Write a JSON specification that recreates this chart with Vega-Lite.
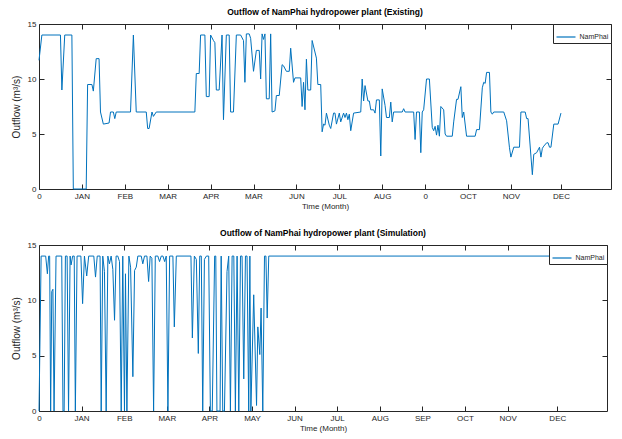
{
  "$schema": "https://vega.github.io/schema/vega-lite/v6.json",
  "padding": {"left": 10, "top": 7, "right": 5, "bottom": 2},
  "background": "white",
  "config": {
    "font": "Liberation Sans, Arial, sans-serif",
    "view": {"stroke": "#262626", "strokeWidth": 1},
    "axis": {"domain": false, "grid": false, "tickColor": "#262626", "tickSize": -5, "labelPadding": 8, "labelFontSize": 8, "labelColor": "#262626", "titleColor": "#262626", "titleFontWeight": "normal", "labelOverlap": false, "labelFlush": false},
    "title": {"fontSize": 8.5, "fontWeight": "bold", "color": "black", "offset": 4},
    "legend": {"orient": "top-right", "offset": 0, "padding": 2.5, "strokeColor": "#262626", "fillColor": "white", "symbolType": "stroke", "symbolSize": 361, "symbolStrokeWidth": 1.2, "labelFontSize": 7, "labelLimit": 0, "title": null, "labelColor": "#262626", "labelOffset": 3}
  },
  "datasets": {
    "existing": [
      {"day": 0, "outflow": 11.7}, {"day": 2, "outflow": 14}, {"day": 15, "outflow": 14}, {"day": 16, "outflow": 9.0}, {"day": 18, "outflow": 14}, {"day": 23, "outflow": 14}, {"day": 24, "outflow": 0}, {"day": 33, "outflow": 0}, {"day": 34, "outflow": 9.5}, {"day": 37, "outflow": 9.5}, {"day": 38, "outflow": 8.9}, {"day": 40, "outflow": 11.85}, {"day": 42, "outflow": 11.85}, {"day": 43, "outflow": 7.0}, {"day": 45, "outflow": 5.9}, {"day": 49, "outflow": 6.0}, {"day": 50, "outflow": 7.0}, {"day": 52, "outflow": 7.0}, {"day": 53, "outflow": 6.4}, {"day": 54, "outflow": 7.0}, {"day": 64, "outflow": 7.0}, {"day": 66, "outflow": 14.0}, {"day": 68, "outflow": 7.0}, {"day": 75, "outflow": 7.0}, {"day": 76, "outflow": 5.5}, {"day": 77, "outflow": 5.5}, {"day": 79, "outflow": 7.0}, {"day": 80, "outflow": 6.6}, {"day": 82, "outflow": 7.0}, {"day": 109, "outflow": 7.0}, {"day": 110, "outflow": 10.5}, {"day": 112, "outflow": 10.5}, {"day": 113, "outflow": 14.0}, {"day": 116, "outflow": 14.0}, {"day": 117, "outflow": 8.4}, {"day": 119, "outflow": 8.4}, {"day": 120, "outflow": 14.0}, {"day": 122, "outflow": 13.5}, {"day": 123, "outflow": 13.3}, {"day": 124, "outflow": 9.0}, {"day": 126, "outflow": 9.0}, {"day": 128, "outflow": 14.0}, {"day": 129, "outflow": 6.3}, {"day": 131, "outflow": 14.0}, {"day": 133, "outflow": 14.0}, {"day": 134, "outflow": 7.0}, {"day": 136, "outflow": 7.0}, {"day": 138, "outflow": 14.0}, {"day": 141, "outflow": 14.0}, {"day": 143, "outflow": 13.5}, {"day": 144, "outflow": 9.7}, {"day": 145, "outflow": 14.1}, {"day": 147, "outflow": 14.1}, {"day": 148, "outflow": 13.7}, {"day": 150, "outflow": 10.7}, {"day": 152, "outflow": 12.6}, {"day": 154, "outflow": 12.6}, {"day": 155, "outflow": 10.0}, {"day": 156, "outflow": 14.1}, {"day": 157, "outflow": 13.6}, {"day": 158, "outflow": 14.1}, {"day": 159, "outflow": 8.2}, {"day": 161, "outflow": 8.2}, {"day": 162, "outflow": 14.1}, {"day": 163, "outflow": 7.0}, {"day": 165, "outflow": 7.1}, {"day": 166, "outflow": 8.5}, {"day": 168, "outflow": 8.5}, {"day": 170, "outflow": 11.3}, {"day": 171, "outflow": 11.2}, {"day": 173, "outflow": 10.7}, {"day": 175, "outflow": 10.7}, {"day": 176, "outflow": 12.8}, {"day": 178, "outflow": 9.7}, {"day": 179, "outflow": 10.1}, {"day": 183, "outflow": 10.1}, {"day": 184, "outflow": 7.5}, {"day": 185, "outflow": 9.7}, {"day": 186, "outflow": 7.2}, {"day": 187, "outflow": 11.8}, {"day": 188, "outflow": 9.0}, {"day": 190, "outflow": 9.0}, {"day": 191, "outflow": 13.5}, {"day": 194, "outflow": 11.9}, {"day": 195, "outflow": 9.5}, {"day": 197, "outflow": 9.5}, {"day": 198, "outflow": 5.2}, {"day": 199, "outflow": 5.9}, {"day": 200, "outflow": 5.8}, {"day": 201, "outflow": 6.9}, {"day": 203, "outflow": 5.8}, {"day": 204, "outflow": 5.5}, {"day": 206, "outflow": 6.9}, {"day": 207, "outflow": 6.9}, {"day": 208, "outflow": 5.9}, {"day": 210, "outflow": 6.9}, {"day": 211, "outflow": 6.1}, {"day": 213, "outflow": 6.9}, {"day": 214, "outflow": 6.5}, {"day": 215, "outflow": 6.9}, {"day": 216, "outflow": 6.3}, {"day": 217, "outflow": 6.8}, {"day": 218, "outflow": 5.3}, {"day": 220, "outflow": 6.9}, {"day": 225, "outflow": 7.0}, {"day": 226, "outflow": 10.0}, {"day": 227, "outflow": 8.0}, {"day": 228, "outflow": 9.4}, {"day": 230, "outflow": 8.0}, {"day": 231, "outflow": 8.0}, {"day": 232, "outflow": 7.2}, {"day": 234, "outflow": 7.2}, {"day": 235, "outflow": 6.9}, {"day": 236, "outflow": 8.1}, {"day": 238, "outflow": 8.1}, {"day": 239, "outflow": 3.0}, {"day": 240, "outflow": 9.1}, {"day": 242, "outflow": 7.6}, {"day": 243, "outflow": 6.5}, {"day": 245, "outflow": 6.5}, {"day": 246, "outflow": 7.9}, {"day": 247, "outflow": 6.1}, {"day": 248, "outflow": 7.0}, {"day": 254, "outflow": 7.0}, {"day": 255, "outflow": 7.3}, {"day": 256, "outflow": 7.0}, {"day": 262, "outflow": 7.0}, {"day": 263, "outflow": 4.5}, {"day": 264, "outflow": 7.0}, {"day": 266, "outflow": 7.0}, {"day": 267, "outflow": 3.3}, {"day": 268, "outflow": 7.0}, {"day": 269, "outflow": 7.2}, {"day": 271, "outflow": 10.0}, {"day": 273, "outflow": 10.0}, {"day": 275, "outflow": 5.6}, {"day": 276, "outflow": 5.3}, {"day": 277, "outflow": 5.7}, {"day": 278, "outflow": 4.9}, {"day": 279, "outflow": 5.8}, {"day": 280, "outflow": 4.8}, {"day": 281, "outflow": 7.5}, {"day": 283, "outflow": 7.2}, {"day": 284, "outflow": 5.0}, {"day": 285, "outflow": 4.8}, {"day": 289, "outflow": 4.8}, {"day": 290, "outflow": 6.1}, {"day": 292, "outflow": 8.15}, {"day": 293, "outflow": 8.15}, {"day": 295, "outflow": 9.3}, {"day": 296, "outflow": 6.5}, {"day": 297, "outflow": 7.0}, {"day": 299, "outflow": 4.8}, {"day": 305, "outflow": 4.8}, {"day": 306, "outflow": 5.4}, {"day": 308, "outflow": 5.4}, {"day": 310, "outflow": 9.2}, {"day": 311, "outflow": 9.7}, {"day": 312, "outflow": 9.6}, {"day": 313, "outflow": 10.6}, {"day": 315, "outflow": 10.6}, {"day": 316, "outflow": 7.0}, {"day": 317, "outflow": 6.8}, {"day": 318, "outflow": 7.0}, {"day": 325, "outflow": 7.0}, {"day": 327, "outflow": 6.2}, {"day": 329, "outflow": 3.75}, {"day": 330, "outflow": 2.9}, {"day": 332, "outflow": 3.8}, {"day": 336, "outflow": 3.8}, {"day": 337, "outflow": 7.0}, {"day": 340, "outflow": 7.0}, {"day": 341, "outflow": 6.4}, {"day": 342, "outflow": 6.4}, {"day": 345, "outflow": 1.3}, {"day": 346, "outflow": 3.15}, {"day": 348, "outflow": 3.3}, {"day": 350, "outflow": 3.8}, {"day": 351, "outflow": 2.9}, {"day": 352, "outflow": 3.7}, {"day": 353, "outflow": 3.9}, {"day": 355, "outflow": 4.2}, {"day": 356, "outflow": 4.2}, {"day": 357, "outflow": 3.8}, {"day": 358, "outflow": 3.8}, {"day": 360, "outflow": 5.9}, {"day": 363, "outflow": 5.9}, {"day": 365, "outflow": 6.9}
    ],
    "simulation": [
      {"day": 0, "outflow": 0}, {"day": 1.5, "outflow": 14}, {"day": 4.7, "outflow": 14}, {"day": 5.9, "outflow": 12.4}, {"day": 6.8, "outflow": 14}, {"day": 7.5, "outflow": 14}, {"day": 8.2, "outflow": 0}, {"day": 9, "outflow": 10.8}, {"day": 9.8, "outflow": 11}, {"day": 10.6, "outflow": 0}, {"day": 12, "outflow": 14}, {"day": 16, "outflow": 14}, {"day": 16.9, "outflow": 0}, {"day": 17.7, "outflow": 0}, {"day": 18.6, "outflow": 14}, {"day": 19.8, "outflow": 14}, {"day": 20.8, "outflow": 0}, {"day": 21.9, "outflow": 14}, {"day": 22.6, "outflow": 13.2}, {"day": 23.7, "outflow": 14}, {"day": 24.8, "outflow": 14}, {"day": 25.6, "outflow": 0}, {"day": 26.8, "outflow": 14}, {"day": 29.5, "outflow": 14}, {"day": 30.7, "outflow": 9.7}, {"day": 32, "outflow": 14}, {"day": 33.6, "outflow": 12.2}, {"day": 35, "outflow": 14}, {"day": 38.6, "outflow": 14}, {"day": 39.8, "outflow": 12.1}, {"day": 41, "outflow": 14}, {"day": 43, "outflow": 14}, {"day": 43.8, "outflow": 0}, {"day": 44.9, "outflow": 14}, {"day": 46.1, "outflow": 12.6}, {"day": 47.3, "outflow": 0}, {"day": 48.5, "outflow": 14}, {"day": 49.6, "outflow": 13.3}, {"day": 50.8, "outflow": 14}, {"day": 52, "outflow": 12.8}, {"day": 53.2, "outflow": 8.2}, {"day": 54.3, "outflow": 14}, {"day": 55.5, "outflow": 14}, {"day": 56.7, "outflow": 13.5}, {"day": 57.9, "outflow": 0}, {"day": 59, "outflow": 14}, {"day": 60.2, "outflow": 0}, {"day": 60.9, "outflow": 12.4}, {"day": 61.9, "outflow": 0}, {"day": 63.3, "outflow": 14}, {"day": 64.5, "outflow": 13}, {"day": 66.1, "outflow": 3.1}, {"day": 67.3, "outflow": 12.7}, {"day": 68.5, "outflow": 13}, {"day": 69.6, "outflow": 14}, {"day": 72, "outflow": 14}, {"day": 73.1, "outflow": 13.3}, {"day": 74.3, "outflow": 14}, {"day": 76, "outflow": 14}, {"day": 77.2, "outflow": 11.7}, {"day": 78.3, "outflow": 14}, {"day": 79.5, "outflow": 13.8}, {"day": 80.7, "outflow": 0}, {"day": 81.9, "outflow": 14}, {"day": 83.7, "outflow": 14}, {"day": 84.9, "outflow": 13.5}, {"day": 86.1, "outflow": 14}, {"day": 87.3, "outflow": 14}, {"day": 88.5, "outflow": 13.5}, {"day": 89.6, "outflow": 14}, {"day": 90.8, "outflow": 0}, {"day": 92, "outflow": 14}, {"day": 94.3, "outflow": 14}, {"day": 95.3, "outflow": 7.6}, {"day": 96.7, "outflow": 14}, {"day": 107, "outflow": 14}, {"day": 108, "outflow": 6.6}, {"day": 109.4, "outflow": 14}, {"day": 110.8, "outflow": 13.7}, {"day": 112.2, "outflow": 5.2}, {"day": 113.2, "outflow": 14}, {"day": 114.3, "outflow": 14}, {"day": 115.3, "outflow": 0}, {"day": 116.5, "outflow": 13.7}, {"day": 117.9, "outflow": 14}, {"day": 119.5, "outflow": 14}, {"day": 120.7, "outflow": 0}, {"day": 122, "outflow": 0}, {"day": 123.7, "outflow": 14}, {"day": 124.5, "outflow": 14}, {"day": 125.3, "outflow": 0}, {"day": 127.5, "outflow": 0}, {"day": 128.3, "outflow": 14}, {"day": 129.4, "outflow": 0}, {"day": 130.6, "outflow": 0}, {"day": 132.4, "outflow": 12.6}, {"day": 133.6, "outflow": 14}, {"day": 134.8, "outflow": 0}, {"day": 136, "outflow": 14}, {"day": 137.2, "outflow": 14}, {"day": 138.3, "outflow": 0}, {"day": 139.5, "outflow": 14}, {"day": 140.7, "outflow": 0}, {"day": 141.9, "outflow": 14}, {"day": 143, "outflow": 14}, {"day": 144.2, "outflow": 2.9}, {"day": 145.4, "outflow": 14}, {"day": 146.5, "outflow": 14}, {"day": 147.7, "outflow": 0}, {"day": 148.5, "outflow": 14}, {"day": 149.2, "outflow": 0}, {"day": 151.2, "outflow": 10.5}, {"day": 153.2, "outflow": 0.5}, {"day": 154.1, "outflow": 7.6}, {"day": 155.5, "outflow": 5.1}, {"day": 156.4, "outflow": 9.3}, {"day": 157.6, "outflow": 0}, {"day": 158.8, "outflow": 14}, {"day": 159.8, "outflow": 14}, {"day": 160.7, "outflow": 8.4}, {"day": 161.8, "outflow": 14}, {"day": 365, "outflow": 14}
    ]
  },
  "spacing": 17,
  "resolve": {"scale": {"color": "independent"}, "legend": {"color": "independent"}},
  "vconcat": [
    {
      "title": "Outflow of NamPhai hydropower plant (Existing)",
      "width": 572,
      "height": 165,
      "data": {"name": "existing"},
      "layer": [
        {
          "mark": {"type": "line", "strokeWidth": 1, "color": "#0072BD"},
          "encoding": {
            "x": {"field": "day", "type": "quantitative", "scale": {"domain": [0, 400], "nice": false, "zero": false},
                  "axis": {"values": [0, 30, 60, 90, 120, 150, 180, 210, 240, 270, 300, 330, 365],
                           "labelExpr": "['0','JAN','FEB','MAR','APR','MAR','JUN','JUL','AUG','0','OCT','NOV','DEC'][indexof([0,30,60,90,120,150,180,210,240,270,300,330,365], datum.value)]",
                           "title": "Time (Month)", "titleFontSize": 8, "titlePadding": 2}},
            "y": {"field": "outflow", "type": "quantitative", "scale": {"domain": [0, 15], "nice": false},
                  "axis": {"values": [0, 5, 10, 15], "title": "Outflow (m³/s)", "titleFontSize": 10, "titlePadding": 6}},
            "color": {"datum": "NamPhai", "scale": {"range": ["#0072BD"]}}
          }
        },
        {
          "mark": {"type": "line", "opacity": 0},
          "encoding": {
            "x": {"field": "day", "type": "quantitative", "axis": {"orient": "top", "values": [30, 60, 90, 120, 150, 180, 210, 240, 270, 300, 330, 365], "labels": false, "title": null}},
            "y": {"field": "outflow", "type": "quantitative", "axis": {"orient": "right", "values": [5, 10], "labels": false, "title": null}}
          }
        }
      ],
      "resolve": {"axis": {"x": "independent", "y": "independent"}}
    },
    {
      "title": "Outflow of NamPhai hydropower plant (Simulation)",
      "width": 568,
      "height": 166,
      "data": {"name": "simulation"},
      "layer": [
        {
          "mark": {"type": "line", "strokeWidth": 1, "color": "#0072BD"},
          "encoding": {
            "x": {"field": "day", "type": "quantitative", "scale": {"domain": [0, 400], "nice": false, "zero": false},
                  "axis": {"values": [0, 30, 60, 90, 120, 150, 180, 210, 240, 270, 300, 330, 365],
                           "labelExpr": "['0','JAN','FEB','MAR','APR','MAY','JUN','JUL','AUG','SEP','OCT','NOV','DEC'][indexof([0,30,60,90,120,150,180,210,240,270,300,330,365], datum.value)]",
                           "title": "Time (Month)", "titleFontSize": 8, "titlePadding": 2}},
            "y": {"field": "outflow", "type": "quantitative", "scale": {"domain": [0, 15], "nice": false},
                  "axis": {"values": [0, 5, 10, 15], "title": "Outflow (m³/s)", "titleFontSize": 10, "titlePadding": 6}},
            "color": {"datum": "NamPhai", "scale": {"range": ["#0072BD"]}}
          }
        },
        {
          "mark": {"type": "line", "opacity": 0},
          "encoding": {
            "x": {"field": "day", "type": "quantitative", "axis": {"orient": "top", "values": [30, 60, 90, 120, 150, 180, 210, 240, 270, 300, 330, 365], "labels": false, "title": null}},
            "y": {"field": "outflow", "type": "quantitative", "axis": {"orient": "right", "values": [5, 10], "labels": false, "title": null}}
          }
        }
      ],
      "resolve": {"axis": {"x": "independent", "y": "independent"}}
    }
  ]
}
